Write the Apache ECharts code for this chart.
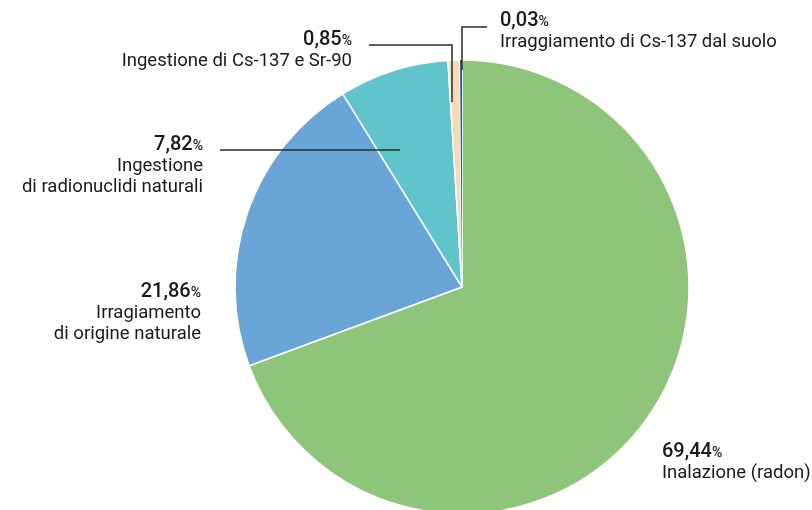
<!DOCTYPE html>
<html><head><meta charset="utf-8">
<script src="https://cdn.jsdelivr.net/npm/echarts@6/dist/echarts.min.js"></script>
<style>html,body{margin:0;padding:0;background:#fff}#c{width:812px;height:510px}</style>
</head><body><div id="c"></div>
<script>
const names = ['Inalazione (radon)', 'Irragiamento\ndi origine naturale', 'Ingestione\ndi radionuclidi naturali', 'Ingestione di Cs-137 e Sr-90', 'Irraggiamento di Cs-137 dal suolo'];
const values = [69.44, 21.86, 7.82, 0.85, 0.03];
const colors = ['#8ec57a', '#6aa5d7', '#60c4cc', '#f3dbb6', '#2f52a3'];

// label placement (layout only)
const labelPos = [
  {x: 662, y: 441, align: 'left'},
  {x: 201, y: 281, align: 'right'},
  {x: 203, y: 134, align: 'right'},
  {x: 352, y: 29, align: 'right'},
  {x: 500, y: 10, align: 'left'}
];
const linePts = [
  null,
  null,
  [[400, 150], [310, 150], [220, 150]],
  [[452, 102], [452, 45], [369, 45]],
  [[462, 70], [462, 27], [487, 27]]
];

const common = {
  type: 'pie',
  center: [462, 287],
  radius: 227,
  startAngle: 90,
  clockwise: true,
  avoidLabelOverlap: false
};

const chart = echarts.init(document.getElementById('c'));
chart.setOption({
  animation: false,
  series: [
    Object.assign({}, common, {
      z: 2,
      minAngle: 0.5,
      itemStyle: {borderColor: '#fff', borderWidth: 1.5},
      label: {show: false},
      labelLine: {show: false},
      data: values.map((v, i) => ({
        value: v, name: names[i],
        itemStyle: i === 4 ? {color: colors[i], borderWidth: 0} : {color: colors[i]}
      }))
    }),
    Object.assign({}, common, {
      z: 5,
      silent: true,
      itemStyle: {color: 'rgba(0,0,0,0)', borderWidth: 0},
      label: {
        show: true,
        formatter: p => '{v|' + p.value.toFixed(2).replace('.', ',') + '}{p|%}\n{n|' + p.name.split('\n').join('}\n{n|') + '}',
        rich: {
          v: {fontFamily: 'Roboto', fontSize: 20, fontWeight: 500, color: '#1a1a1a', lineHeight: 22},
          p: {fontFamily: 'Roboto', fontSize: 14, fontWeight: 500, color: '#1a1a1a', lineHeight: 22, verticalAlign: 'bottom', padding: [0, 0, 3, 0]},
          n: {fontFamily: 'Roboto', fontSize: 18.5, color: '#1a1a1a', lineHeight: 21}
        }
      },
      labelLine: {show: true, lineStyle: {color: '#2b2b2b', width: 1.5}},
      labelLayout: function (params) {
        const i = params.dataIndex;
        const lp = labelPos[i];
        const r = {x: lp.x, y: lp.y, align: lp.align, verticalAlign: 'top'};
        if (linePts[i]) r.labelLinePoints = linePts[i];
        return r;
      },
      data: values.map((v, i) => ({
        value: v,
        name: names[i],
        labelLine: {show: !!linePts[i]},
        label: {align: labelPos[i].align}
      }))
    })
  ]
});
</script></body></html>
